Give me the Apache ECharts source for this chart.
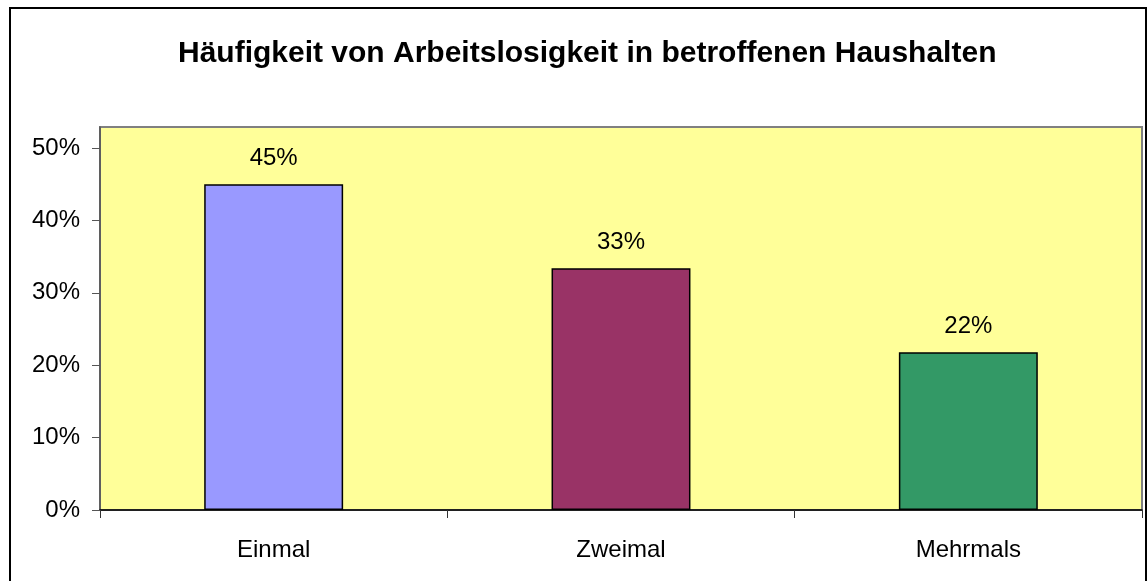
<!DOCTYPE html>
<html>
<head>
<meta charset="utf-8">
<script src="https://cdn.jsdelivr.net/npm/echarts@6/dist/echarts.min.js"></script>
<style>
  html, body { margin: 0; padding: 0; background: #fff; }
  #main { width: 1147px; height: 581px; }
</style>
</head>
<body>
<div id="main"></div>
<script>
const categories = ["Einmal", "Zweimal", "Mehrmals"];
const shares = [45, 33.4, 21.8];
const barColors = ["#9999FF", "#993366", "#339966"];
const yTicks = [0, 10, 20, 30, 40, 50];

const chart = echarts.init(document.getElementById("main"));

const option = {
  animation: false,
  backgroundColor: "#fff",
  title: {
    text: "Häufigkeit von Arbeitslosigkeit in betroffenen Haushalten",
    left: 173,
    top: 34,
    textStyle: {
      fontFamily: "Liberation Sans, Arial",
      fontWeight: "bold",
      fontSize: 30,
      color: "#000",
    },
  },
  graphic: [
    {
      // outer chart frame
      type: "rect",
      shape: { x: 10, y: 8, width: 1136, height: 600 },
      style: { fill: null, stroke: "#000", lineWidth: 2 },
      silent: true,
    },
  ],
  grid: {
    left: 100,
    top: 127,
    right: 5,
    bottom: 71,
    show: true,
    backgroundColor: "#FFFF99",
    borderColor: "#808080",
    borderWidth: 2,
  },
  xAxis: {
    type: "category",
    data: categories,
    axisLine: { lineStyle: { color: "#000", width: 1.5 } },
    axisTick: { show: true, length: 8, lineStyle: { color: "#333" } },
    axisLabel: {
      margin: 28,
      fontFamily: "Liberation Sans, Arial",
      fontSize: 24,
      color: "#000",
    },
  },
  yAxis: {
    type: "value",
    min: 0,
    max: 52.9,
    interval: 10,
    splitLine: { show: false },
    axisLine: { show: true, lineStyle: { color: "#555", width: 1.5 } },
    axisTick: {
      show: true,
      length: 8,
      customValues: yTicks,
      lineStyle: { color: "#555" },
    },
    axisLabel: {
      margin: 20,
      customValues: yTicks,
      fontFamily: "Liberation Sans, Arial",
      fontSize: 24,
      color: "#000",
      formatter: (v) => v + "%",
    },
  },
  series: [
    {
      type: "bar",
      barWidth: "40%",
      data: shares.map((v, i) => ({
        value: v,
        itemStyle: { color: barColors[i] },
      })),
      itemStyle: { borderColor: "#000", borderWidth: 1.5 },
      label: {
        show: true,
        position: "top",
        distance: 14,
        fontFamily: "Liberation Sans, Arial",
        fontSize: 24,
        color: "#000",
        formatter: (p) => Math.round(p.value) + "%",
      },
    },
  ],
};

chart.setOption(option);
</script>
</body>
</html>
